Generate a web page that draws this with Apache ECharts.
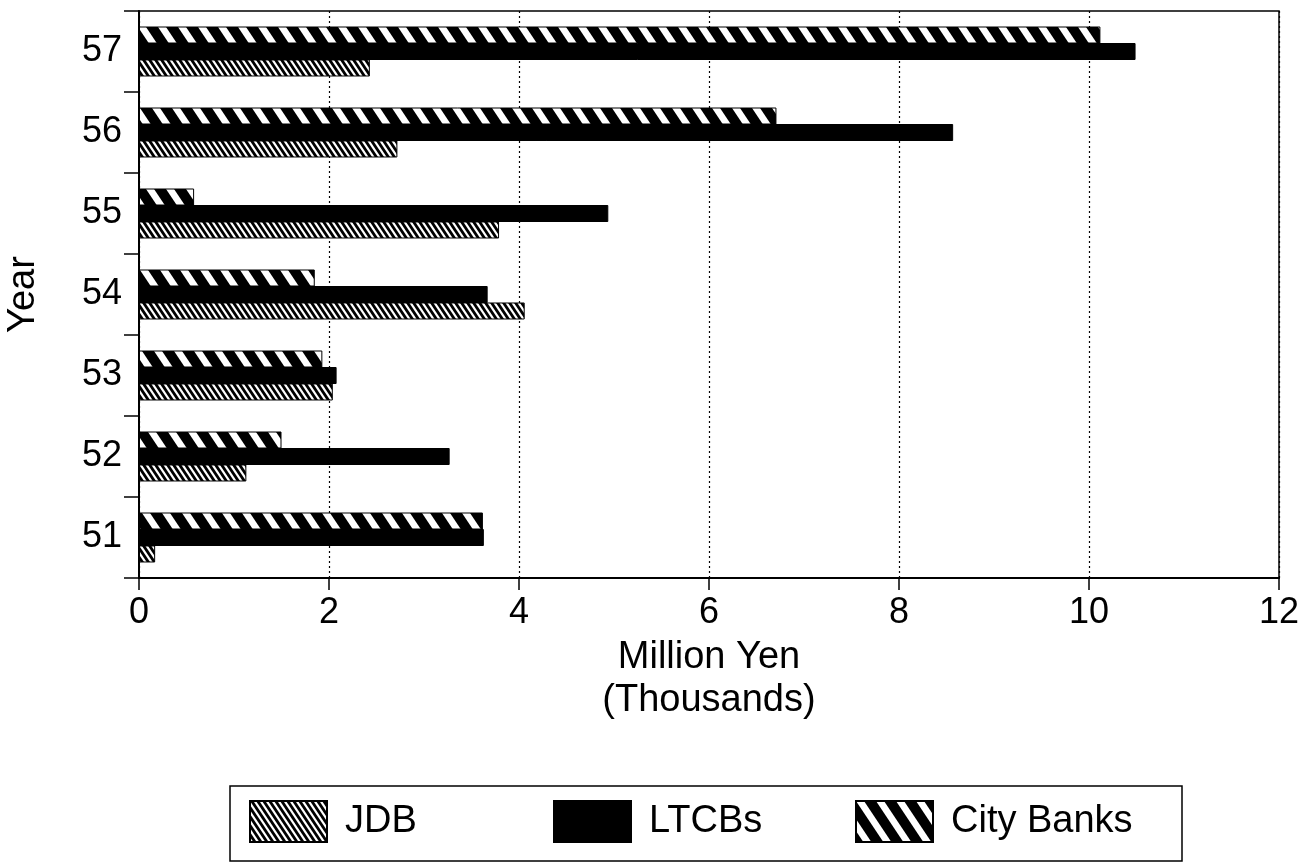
<!DOCTYPE html>
<html>
<head>
<meta charset="utf-8">
<script src="https://cdn.jsdelivr.net/npm/echarts@6/dist/echarts.min.js"></script>
<style>
html,body{margin:0;padding:0;background:#fff;}
#chart{width:1303px;height:863px;}
</style>
</head>
<body>
<div id="chart"></div>
<script>
// ---- data ----
var years = ['51', '52', '53', '54', '55', '56', '57'];
var jdb = [0.17, 1.13, 2.04, 4.06, 3.79, 2.72, 2.43];
var ltcbs = [3.63, 3.27, 2.08, 3.67, 4.94, 8.57, 10.49];
var cityBanks = [3.62, 1.50, 1.93, 1.85, 0.58, 6.71, 10.12];
var seriesNames = ['JDB', 'LTCBs', 'City Banks'];
var xTicks = [0, 2, 4, 6, 8, 10, 12];

// ---- patterns ----
function stripePattern(W, H, stripeW, bg, fg) {
  var c = document.createElement('canvas');
  c.width = W; c.height = H;
  var ctx = c.getContext('2d');
  ctx.fillStyle = bg;
  ctx.fillRect(0, 0, W, H);
  ctx.fillStyle = fg;
  for (var k = -2; k <= 2; k++) {
    var x0 = k * W;
    ctx.beginPath();
    ctx.moveTo(x0, 0);
    ctx.lineTo(x0 + stripeW, 0);
    ctx.lineTo(x0 + stripeW + W, H);
    ctx.lineTo(x0 + W, H);
    ctx.closePath();
    ctx.fill();
  }
  return { image: c, repeat: 'repeat' };
}
var jdbFill = stripePattern(6, 9, 3.4, '#ffffff', '#000000');
var cityFill = stripePattern(20, 30, 8, '#000000', '#ffffff');

var chart = echarts.init(document.getElementById('chart'));
var font = 'Liberation Sans, Arial, Helvetica, sans-serif';

function barSeries(name, data, fill) {
  return {
    name: name,
    type: 'bar',
    data: data,
    barWidth: 17,
    barGap: '-3%',
    itemStyle: { color: fill, borderColor: '#000', borderWidth: 1 },
    emphasis: { disabled: true },
    animation: false
  };
}

function legendItem(name, left) {
  return {
    data: [name],
    left: left, top: 800,
    orient: 'horizontal',
    icon: 'rect',
    itemWidth: 77, itemHeight: 41,
    padding: 0,
    selectedMode: false,
    textStyle: { fontSize: 38, color: '#000', fontFamily: font, padding: [0, 0, 0, 13] }
  };
}

chart.setOption({
  backgroundColor: '#ffffff',
  animation: false,
  textStyle: { fontFamily: font, color: '#000' },
  grid: {
    left: 139, right: 24, top: 11, bottom: 285,
    containLabel: false,
    outerBoundsMode: 'none',
    show: true, borderColor: '#000', borderWidth: 1.5, backgroundColor: 'transparent'
  },
  graphic: [{
    type: 'rect',
    shape: { x: 230, y: 786, width: 952, height: 75 },
    style: { fill: 'none', stroke: '#000', lineWidth: 1.5 },
    silent: true
  }],
  legend: [
    legendItem(seriesNames[0], 249),
    legendItem(seriesNames[1], 553),
    legendItem(seriesNames[2], 855)
  ],
  xAxis: {
    type: 'value',
    min: 0, max: 12, interval: 2,
    name: 'Million Yen\n(Thousands)',
    nameLocation: 'middle',
    nameGap: 56,
    nameTextStyle: { fontSize: 38, color: '#000', lineHeight: 43, fontFamily: font, verticalAlign: 'top' },
    axisLine: { show: true, lineStyle: { color: '#000', width: 2 } },
    axisTick: { show: true, length: 12, lineStyle: { color: '#000', width: 1.5 } },
    axisLabel: {
      fontSize: 36, color: '#000', margin: 17, fontFamily: font,
      formatter: function (v) { return xTicks.indexOf(v) >= 0 ? String(v) : ''; }
    },
    splitLine: { show: true, lineStyle: { color: '#000', type: [2, 3], width: 1.2 } }
  },
  yAxis: {
    type: 'category',
    data: years,
    name: 'Year',
    nameLocation: 'middle',
    nameGap: 96,
    nameRotate: 90,
    nameTextStyle: { fontSize: 38, color: '#000', fontFamily: font },
    axisLine: { show: true, lineStyle: { color: '#000', width: 2 } },
    axisTick: { show: true, length: 15, lineStyle: { color: '#000', width: 1.5 } },
    axisLabel: { fontSize: 36, color: '#000', margin: 17, fontFamily: font },
    splitLine: { show: false }
  },
  series: [
    barSeries(seriesNames[2], cityBanks, cityFill),
    barSeries(seriesNames[1], ltcbs, '#000000'),
    barSeries(seriesNames[0], jdb, jdbFill)
  ]
});
</script>
</body>
</html>
